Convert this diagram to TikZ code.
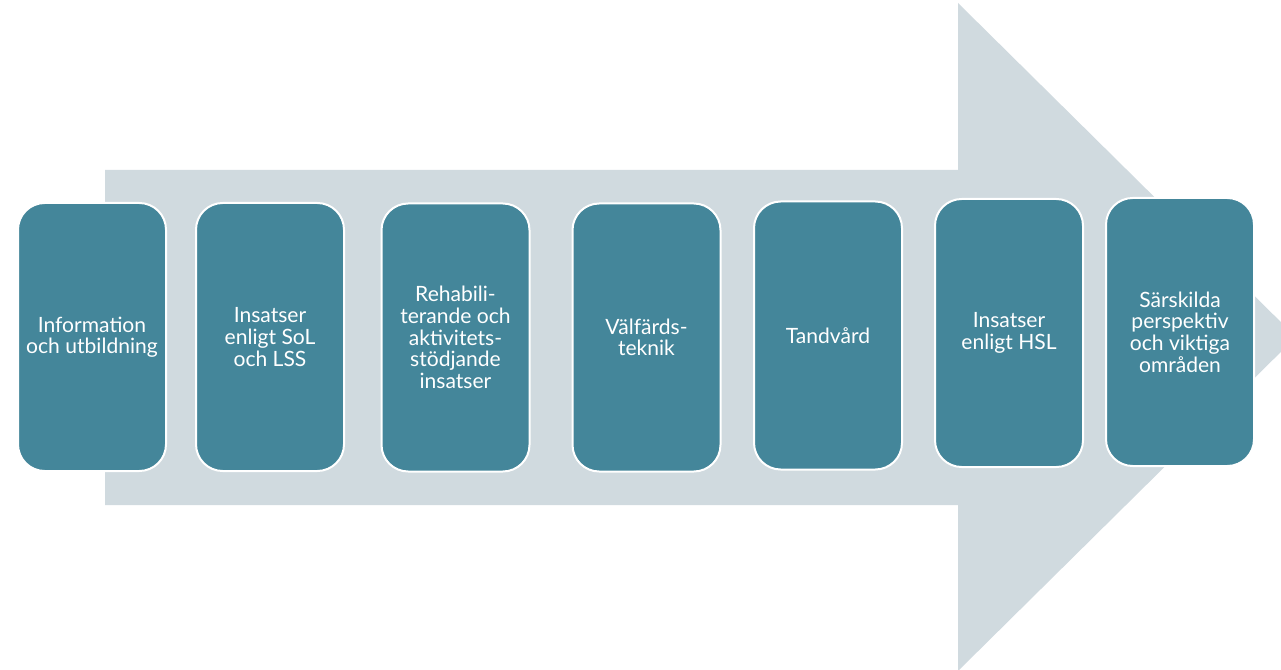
\documentclass[tikz,border=0pt]{standalone}
\usepackage{fontspec}
\setmainfont{Lato}
\usepackage{xcolor}
\definecolor{flow}{HTML}{D0DADF}
\definecolor{teal}{HTML}{44869A}

\begin{document}
\begin{tikzpicture}[x=.75pt,y=-.75pt,
  box/.style={draw=white,line width=1.5pt,fill=teal,rounded corners=20pt,
    minimum width=111pt,minimum height=201pt,inner sep=0pt,align=center,
    text=white,font=\fontsize{15.8}{16.2}\selectfont}]
  \useasboundingbox (0,0) rectangle (1281,670);
  \fill[flow] (105,170) -- (958,170) -- (958,3) -- (1296,337)
    -- (958,671) -- (958,505) -- (105,505) -- cycle;
  \node (io) [box] at (92,337) {Information\\och utbildning};
  \node (sl) [box] at (270,337) {Insatser\\enligt SoL\\och LSS};
  \node (ra) [box] at (455.5,337.5) {Rehabili-\\terande och\\aktivitets-\\stödjande\\insatser};
  \node (vt) [box] at (646.5,337.5) {Välfärds-\\teknik};
  \node (tv) [box] at (828,335.5) {Tandvård};
  \node (hs) [box] at (1009,333) {Insatser\\enligt HSL};
  \node (sp) [box] at (1180,332) {Särskilda\\perspektiv\\och viktiga\\områden};
\end{tikzpicture}
\end{document}
